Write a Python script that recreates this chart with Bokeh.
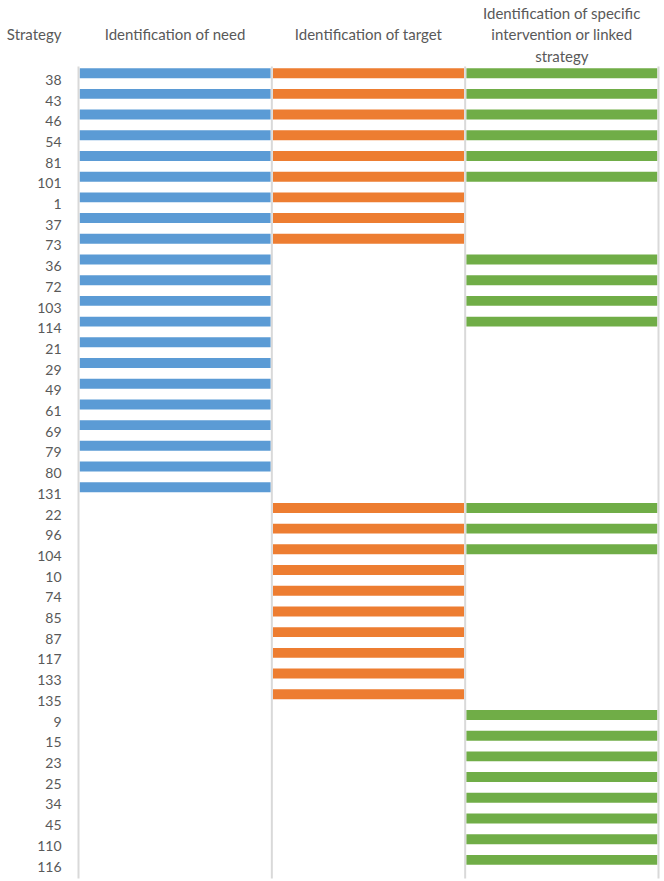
from bokeh.plotting import figure
from bokeh.models import Range1d, ColumnDataSource
from bokeh.core.properties import value
from bokeh.embed import file_html
from bokeh.resources import INLINE

strategies = ["38", "43", "46", "54", "81", "101", "1", "37", "73", "36", "72", "103", "114",
              "21", "29", "49", "61", "69", "79", "80", "131", "22", "96", "104", "10", "74",
              "85", "87", "117", "133", "135", "9", "15", "23", "25", "34", "45", "110", "116"]
need =         [1, 1, 1, 1, 1, 1, 1, 1, 1, 1, 1, 1, 1, 1, 1, 1, 1, 1, 1, 1, 1,
                0, 0, 0, 0, 0, 0, 0, 0, 0, 0, 0, 0, 0, 0, 0, 0, 0, 0]
target =       [1, 1, 1, 1, 1, 1, 1, 1, 1, 0, 0, 0, 0, 0, 0, 0, 0, 0, 0, 0, 0,
                1, 1, 1, 1, 1, 1, 1, 1, 1, 1, 0, 0, 0, 0, 0, 0, 0, 0]
intervention = [1, 1, 1, 1, 1, 1, 0, 0, 0, 1, 1, 1, 1, 0, 0, 0, 0, 0, 0, 0, 0,
                1, 1, 1, 0, 0, 0, 0, 0, 0, 0, 1, 1, 1, 1, 1, 1, 1, 1]
columns = ["Identification of need", "Identification of target",
           "Identification of specific\nintervention or linked\nstrategy"]
axis_title = "Strategy"
colors = ["#5B9BD5", "#ED7D31", "#70AD47"]

FONT = "Lato"
TXT = "#595959"
W, H = 662, 880
LEFT, RIGHT = 78, 658          # plot area in pixels
ROW0, ROWN, BOTTOM = 79.3, 866.0, 878.0

n = len(strategies)
px_row = (ROWN - ROW0) / (n - 1)
px_col = (RIGHT - LEFT) / 3.0

def xd(px):
    return (px - LEFT) / px_col

def yd(py):
    return (py - ROW0) / px_row

p = figure(width=W, height=H, output_backend="svg", toolbar_location=None,
           x_range=Range1d(xd(0), xd(W)), y_range=Range1d(yd(H), yd(0)),
           min_border=0)
p.outline_line_color = None
p.axis.visible = False
p.grid.visible = False

# bars
for c, flags in enumerate([need, target, intervention]):
    ys = [i - 0.32 for i, f in enumerate(flags) if f]
    src = ColumnDataSource(dict(y=ys))
    p.hbar(y="y", left=c + 0.006, right=c + 0.994, height=0.48, source=src,
           fill_color=colors[c], line_color=None)

# column separators
p.segment(x0=[0, 1, 2, 3], x1=[0, 1, 2, 3], y0=yd(66), y1=yd(BOTTOM),
          line_color="#d9d9d9", line_width=2)

# row labels
p.text(x=xd(61), y=list(range(n)), text=strategies, text_align="right",
       text_baseline="middle", text_font=value(FONT), text_font_size="14px",
       text_color=TXT)

# headers
hx = [xd(61), 0.5, 1.5]
ht = [axis_title, columns[0], columns[1]]
p.text(x=hx, y=[yd(33)] * 3, text=ht, text_align=["right", "center", "center"],
       text_baseline="middle", text_font=value(FONT), text_font_size="15px",
       text_color=TXT)
lines = columns[2].split("\n")
p.text(x=[2.5] * 3, y=[yd(12), yd(33.5), yd(55)], text=lines, text_align="center",
       text_baseline="middle", text_font=value(FONT), text_font_size="15px",
       text_color=TXT)

open("out.html", "w").write(file_html(p, INLINE))
